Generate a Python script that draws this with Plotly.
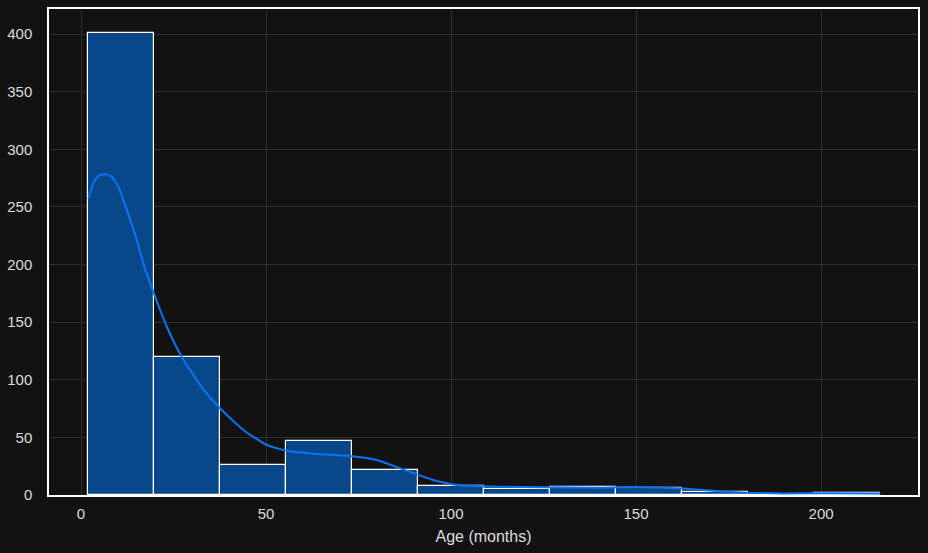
import plotly.graph_objects as go

# Histogram bins (Age in months)
bin_start = 2.0
bin_end = 216.0
counts = [401, 120, 26, 47, 22, 8, 5, 7, 6, 3, 0, 2]

# KDE curve (scaled to counts)
kde_x = [2, 3.3, 4.7, 6.5, 8.3, 10.1, 12.3, 15.0, 17.0, 19.8, 23.2, 27.2, 32.2, 37.6, 43.9,
         50.2, 55.6, 63.7, 72.7, 79.9, 88, 95.2, 101.5, 113.2, 126, 140.3, 149.2, 155,
         161.9, 171.8, 180.2, 189.8, 203, 216]
kde_y = [257.4, 270.4, 276.8, 278.5, 276.2, 267.5, 248, 222, 199.5, 174, 146, 120, 95.4, 75, 56.4,
         43.4, 38.4, 35.6, 33.8, 30.4, 21.1, 13, 8.7, 7.2, 6.8, 6.3, 7.0, 6.6,
         5.8, 3.5, 2.0, 1.4, 1.5, 1.3]

n = len(counts)
w = (bin_end - bin_start) / n
centers = [bin_start + w * (i + 0.5) for i in range(n)]

fig = go.Figure()
fig.add_trace(go.Bar(
    x=centers, y=counts, width=[w] * n,
    marker=dict(color="#08478a", line=dict(color="white", width=1.2)),
    showlegend=False, hoverinfo="x+y"))
fig.add_trace(go.Scatter(
    x=kde_x, y=kde_y, mode="lines",
    line=dict(color="#0a74f5", width=2, shape="spline", smoothing=0.5),
    showlegend=False))

font_fam = "Liberation Sans, Arial, sans-serif"
fig.update_layout(
    width=928, height=553,
    margin=dict(l=49, r=10, t=9, b=58),
    paper_bgcolor="#121212", plot_bgcolor="#121212",
    font=dict(family=font_fam, size=15, color="#dddddd"),
    bargap=0,
)
fig.update_xaxes(
    range=[-8.65, 226.2], tickvals=[0, 50, 100, 150, 200],
    showgrid=True, gridcolor="#2e2e2e", gridwidth=1, zeroline=False,
    showline=True, linecolor="white", linewidth=1.5, mirror=True,
    ticks="", ticklabelstandoff=4, automargin=False,
    title=dict(text="Age (months)", font=dict(size=16, color="#dddddd"), standoff=10),
)
fig.update_yaxes(
    range=[0, 421.7], tickvals=[0, 50, 100, 150, 200, 250, 300, 350, 400],
    showgrid=True, gridcolor="#2e2e2e", gridwidth=1, zeroline=False,
    showline=True, linecolor="white", linewidth=1.5, mirror=True,
    ticks="", ticklabelstandoff=12, automargin=False,
)
fig.write_html("out.html")
